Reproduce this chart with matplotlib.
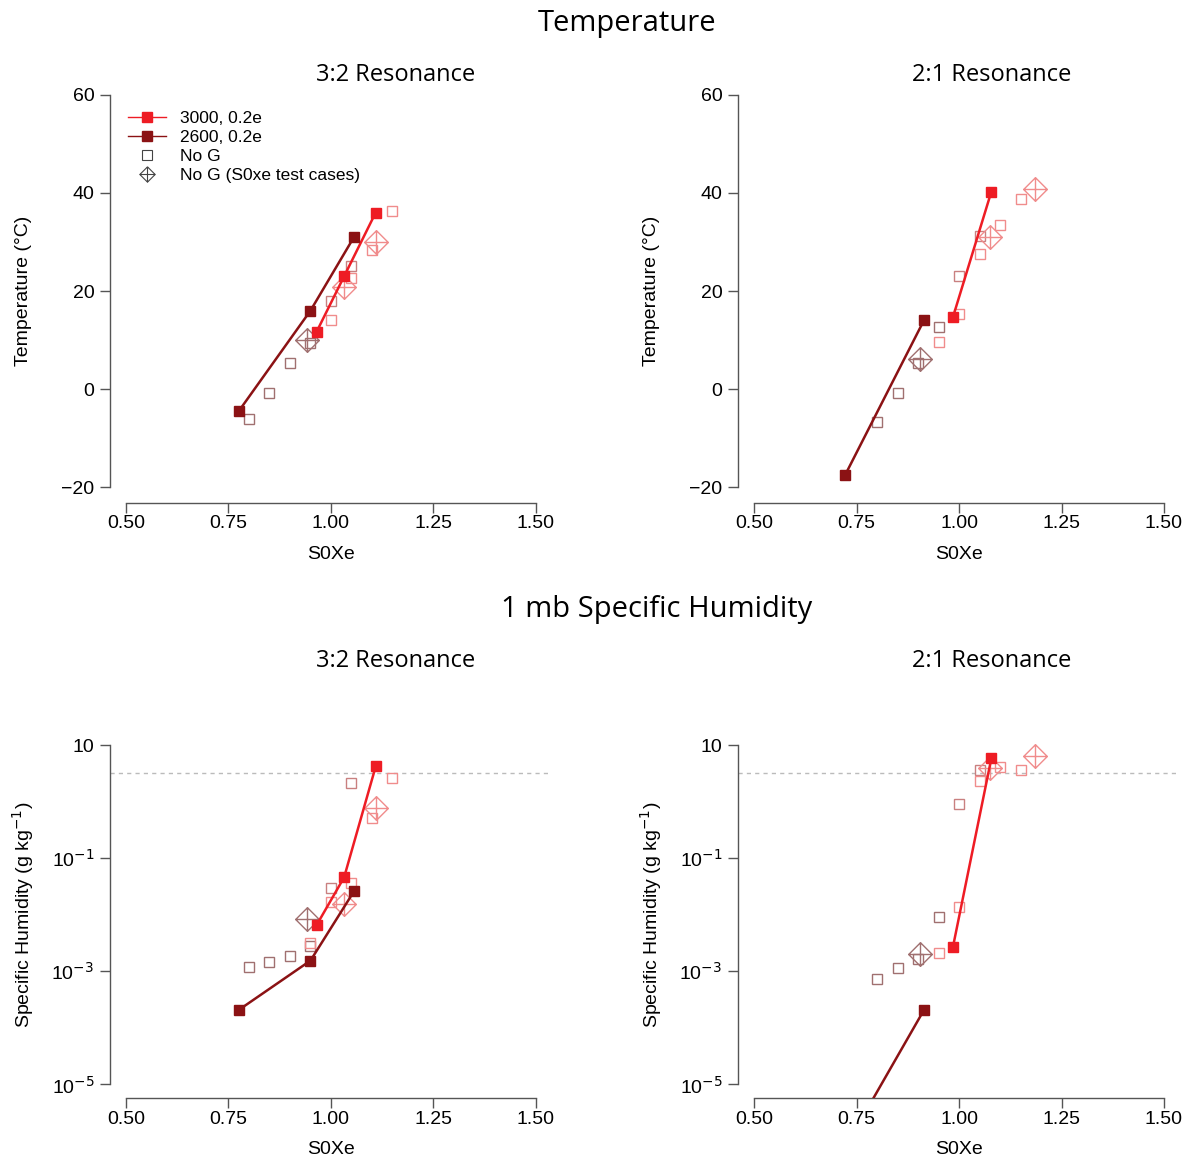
import numpy as np
import matplotlib
matplotlib.use("Agg")
import matplotlib.pyplot as plt
from matplotlib.path import Path
from matplotlib.lines import Line2D

# ---------------- data ----------------
# 3:2 resonance
r32_x3000 = [0.965, 1.032, 1.109]
r32_T3000 = [11.7, 23.0, 36.0]
r32_q3000 = [0.0066, 0.046, 4.2]
r32_x2600 = [0.776, 0.950, 1.056]
r32_T2600 = [-4.4, 16.0, 31.0]
r32_q2600 = [0.00021, 0.00155, 0.026]

r32_sq_x = [0.80, 0.85, 0.90, 0.95, 1.00, 1.00, 1.05, 1.05, 1.10, 1.15]
r32_sq_T = [-6.1, -0.8, 5.3, 9.3, 14.0, 17.9, 22.7, 25.1, 28.3, 36.3]
r32_sqq_x = [0.80, 0.85, 0.90, 0.95, 0.95, 1.00, 1.00, 1.05, 1.05, 1.10, 1.15]
r32_sq_q = [0.00121, 0.00149, 0.0019, 0.0028, 0.0032, 0.030, 0.0166, 0.037, 2.16, 0.51, 2.6]
r32_dm_x = [0.942, 1.032, 1.109]
r32_dm_T = [10.1, 20.8, 30.1]
r32_dm_q = [0.0086, 0.0153, 0.79]

# 2:1 resonance
r21_x3000 = [0.985, 1.079]
r21_T3000 = [14.6, 40.3]
r21_q3000 = [0.00265, 5.9]
r21_x2600 = [0.722, 0.915]
r21_T2600 = [-17.6, 14.1]
r21_q2600 = [7.6e-7, 0.00021]

r21_sq_x = [0.80, 0.85, 0.90, 0.95, 0.95, 1.00, 1.00, 1.05, 1.05, 1.10, 1.15]
r21_sq_T = [-6.7, -0.8, 5.4, 12.7, 9.5, 23.1, 15.3, 31.2, 27.5, 33.5, 38.7]
r21_sq_q = [0.00073, 0.00113, 0.00166, 0.0093, 0.0021, 0.91, 0.014, 3.6, 2.37, 4.1, 3.6]
r21_dm_x = [0.905, 1.076, 1.186]
r21_dm_T = [6.2, 31.0, 40.8]
r21_dm_q = [0.00204, 3.9, 6.4]

q_threshold = 3.16

x_ticks = [0.50, 0.75, 1.00, 1.25, 1.50]
T_ticks = [-20, 0, 20, 40, 60]
q_ticks = [10.0, 0.1, 0.001, 0.00001]
q_ticklabels = ["10", "10$^{-1}$", "10$^{-3}$", "10$^{-5}$"]

legend_labels = ["3000, 0.2e", "2600, 0.2e", "No G", "No G (S0xe test cases)"]

# ---------------- style ----------------
RED = "#ee1c24"
DARK = "#8b1214"
BROWN = "#a07070"
MID = "#c98080"
LIGHT = "#f08c8c"

r32_sq_c = [BROWN, BROWN, BROWN, BROWN, LIGHT, MID, LIGHT, MID, LIGHT, LIGHT]
r32_sqq_c = [BROWN, BROWN, BROWN, BROWN, LIGHT, MID, LIGHT, LIGHT, MID, LIGHT, LIGHT]
r32_dm_c = [BROWN, LIGHT, LIGHT]
r21_sq_c = [BROWN, BROWN, BROWN, BROWN, LIGHT, MID, LIGHT, MID, LIGHT, LIGHT, LIGHT]
r21_dm_c = [BROWN, LIGHT, LIGHT]

diamond_plus = Path(
    [(0, 1), (1, 0), (0, -1), (-1, 0), (0, 1), (-1, 0), (1, 0), (0, -1), (0, 1)],
    [Path.MOVETO, Path.LINETO, Path.LINETO, Path.LINETO, Path.LINETO,
     Path.MOVETO, Path.LINETO, Path.MOVETO, Path.LINETO])

TICKFONT = "Liberation Sans"
TITLEFONT = "Open Sans"

W, H = 1192, 1162
fig = plt.figure(figsize=(W / 100, H / 100), dpi=100)


def px_axes(l, t, r, b):
    return fig.add_axes([l / W, 1 - b / H, (r - l) / W, (b - t) / H])


ax_tl = px_axes(109.6, 79.3, 552.4, 502.7)
ax_tr = px_axes(737.6, 79.3, 1180.4, 502.7)
ax_bl = px_axes(109.6, 731.6, 552.4, 1098)
ax_br = px_axes(737.6, 731.6, 1180.4, 1098)


def style_axes(ax, log=False):
    ax.set_xlim(0.46, 1.54)
    if log:
        ax.set_yscale("log")
        ax.set_ylim(10 ** -5.24, 10 ** 1.24)
        ax.set_yticks(q_ticks)
        ax.set_yticklabels(q_ticklabels)
        ax.yaxis.set_minor_locator(matplotlib.ticker.NullLocator())
        ax.spines["left"].set_bounds(1e-5, 10)
        ax.set_ylabel("Specific Humidity (g kg$^{-1}$)", fontsize=14, family=TICKFONT, labelpad=11)
    else:
        ax.set_ylim(-23.2, 63.2)
        ax.set_yticks(T_ticks)
        ax.set_yticklabels([f"{v:d}".replace("-", "\u2212") for v in T_ticks])
        ax.spines["left"].set_bounds(-20, 60)
        ax.set_ylabel("Temperature (\u00b0C)", fontsize=14, family=TICKFONT, labelpad=21)
    ax.set_xticks(x_ticks)
    ax.set_xticklabels([f"{v:.2f}" for v in x_ticks])
    ax.spines["bottom"].set_bounds(0.5, 1.5)
    for s in ["top", "right"]:
        ax.spines[s].set_visible(False)
    for s in ["left", "bottom"]:
        ax.spines[s].set_color("#555555")
        ax.spines[s].set_linewidth(1.0)
    ax.tick_params(direction="out", length=7, width=1.0, color="#555555",
                   labelsize=14, pad=4)
    ax.tick_params(axis="x", pad=2)
    for lab in ax.get_xticklabels() + ax.get_yticklabels():
        lab.set_family(TICKFONT)
    ax.set_xlabel("S0Xe", fontsize=14, family=TICKFONT, labelpad=10)


def open_squares(ax, x, y, c):
    for xi, yi, ci in zip(x, y, c):
        ax.plot(xi, yi, "s", ms=6.5, mfc="none", mec=ci, mew=1.0, zorder=2)


def diamonds(ax, x, y, c):
    for xi, yi, ci in zip(x, y, c):
        ax.plot(xi, yi, marker=diamond_plus, ms=17, mfc="none", mec=ci, mew=1.0,
                ls="none", zorder=2)


def series(ax, x, y, col):
    ax.plot(x, y, "-", color=col, lw=1.8, zorder=3)
    ax.plot(x, y, "s", color=col, ms=7, zorder=4)


# top-left
style_axes(ax_tl)
open_squares(ax_tl, r32_sq_x, r32_sq_T, r32_sq_c)
diamonds(ax_tl, r32_dm_x, r32_dm_T, r32_dm_c)
series(ax_tl, r32_x2600, r32_T2600, DARK)
series(ax_tl, r32_x3000, r32_T3000, RED)

# top-right
style_axes(ax_tr)
open_squares(ax_tr, r21_sq_x, r21_sq_T, r21_sq_c)
diamonds(ax_tr, r21_dm_x, r21_dm_T, r21_dm_c)
series(ax_tr, r21_x2600, r21_T2600, DARK)
series(ax_tr, r21_x3000, r21_T3000, RED)

# bottom-left
style_axes(ax_bl, log=True)
ax_bl.axhline(q_threshold, color="#bbbbbb", ls=(0, (3, 3)), lw=1.0, zorder=1)
open_squares(ax_bl, r32_sqq_x, r32_sq_q, r32_sqq_c)
diamonds(ax_bl, r32_dm_x, r32_dm_q, r32_dm_c)
series(ax_bl, r32_x2600, r32_q2600, DARK)
series(ax_bl, r32_x3000, r32_q3000, RED)

# bottom-right
style_axes(ax_br, log=True)
ax_br.axhline(q_threshold, color="#bbbbbb", ls=(0, (3, 3)), lw=1.0, zorder=1)
open_squares(ax_br, r21_sq_x, r21_sq_q, r21_sq_c)
diamonds(ax_br, r21_dm_x, r21_dm_q, r21_dm_c)
series(ax_br, r21_x2600, r21_q2600, DARK)
series(ax_br, r21_x3000, r21_q3000, RED)

# legend
handles = [
    Line2D([], [], color=RED, lw=1.0, marker="s", ms=7),
    Line2D([], [], color=DARK, lw=1.0, marker="s", ms=7),
    Line2D([], [], color="#444444", ls="none", marker="s", ms=7, mfc="none", mew=0.8),
    Line2D([], [], color="#444444", ls="none", marker=diamond_plus, ms=11, mfc="none", mew=0.8),
]
leg = ax_tl.legend(handles, legend_labels, loc="upper left",
                   bbox_to_anchor=(0.042, 0.925), frameon=False,
                   prop={"family": TICKFONT, "size": 12.5},
                   handlelength=2.2, handletextpad=0.8, labelspacing=0.22,
                   borderpad=0, borderaxespad=0)

# titles
fig.text(627 / W, 1 - 23 / H, "Temperature", ha="center", va="center",
         fontsize=21, family=TITLEFONT)
fig.text(657 / W, 1 - 609 / H, "1 mb Specific Humidity", ha="center", va="center",
         fontsize=21, family=TITLEFONT)
for yy in (75, 661):
    fig.text(396 / W, 1 - yy / H, "3:2 Resonance", ha="center", va="center",
             fontsize=17, family=TITLEFONT)
    fig.text(992 / W, 1 - yy / H, "2:1 Resonance", ha="center", va="center",
             fontsize=17, family=TITLEFONT)

fig.savefig("out.png", dpi=100)
